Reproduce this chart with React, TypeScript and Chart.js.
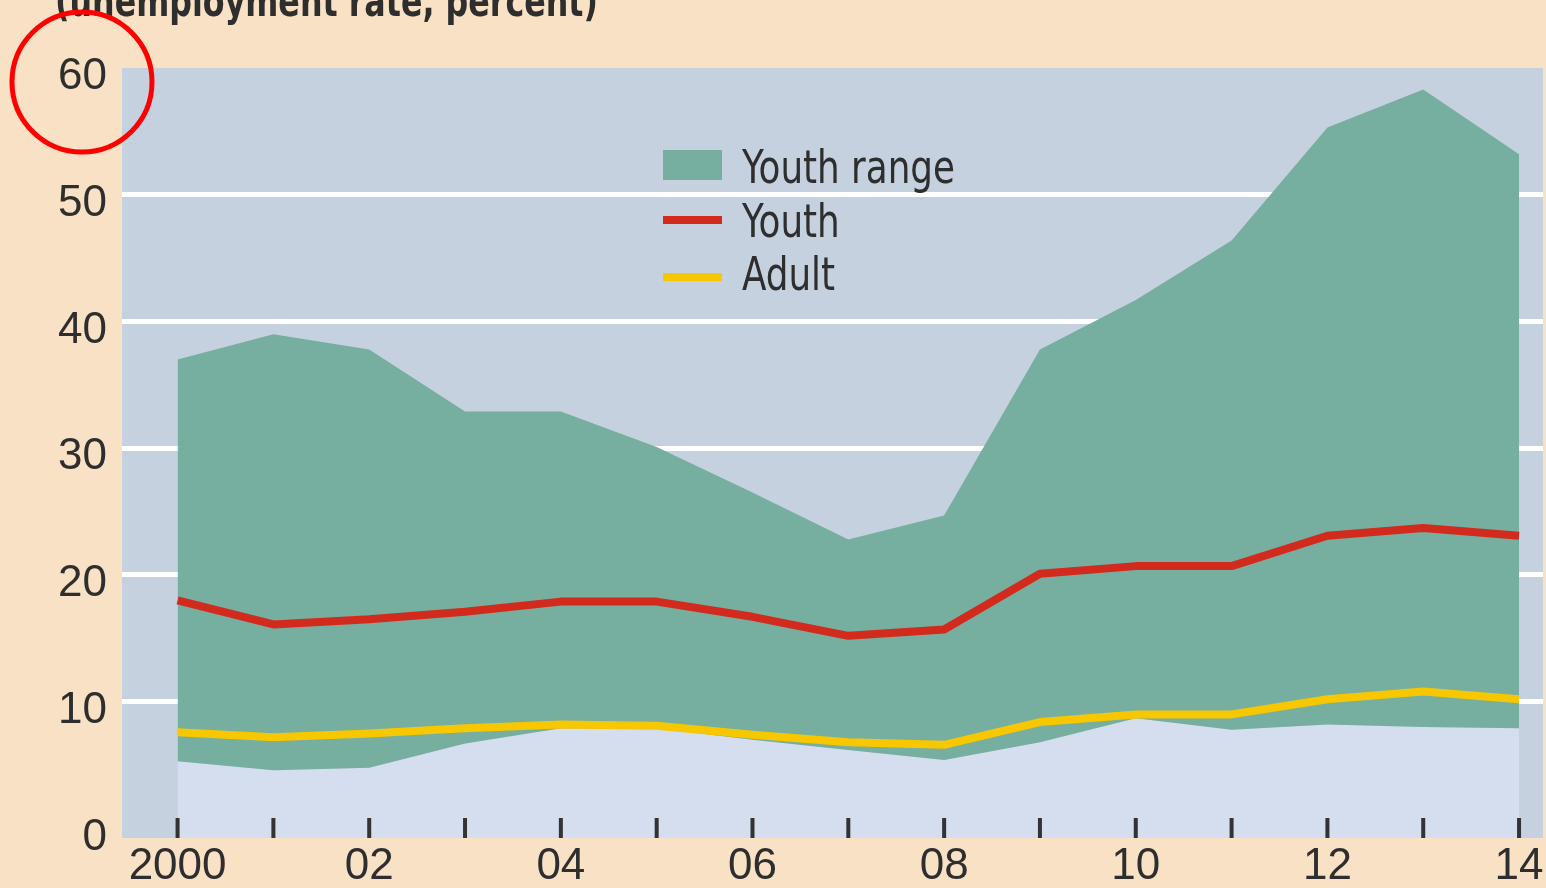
import React, { useEffect, useRef } from "react";
import { Chart, registerables } from "chart.js";

Chart.register(...registerables);

const years = [2000, 2001, 2002, 2003, 2004, 2005, 2006, 2007, 2008, 2009, 2010, 2011, 2012, 2013, 2014];
const rangeHigh = [37.0, 39.0, 37.8, 32.9, 32.9, 30.1, 26.5, 22.8, 24.7, 37.8, 41.7, 46.4, 55.3, 58.3, 53.2];
const rangeLow = [5.3, 4.6, 4.8, 6.7, 7.9, 7.9, 7.0, 6.2, 5.4, 6.8, 8.7, 7.8, 8.2, 8.0, 7.9];
const youth = [18.0, 16.1, 16.5, 17.1, 17.9, 17.9, 16.7, 15.2, 15.7, 20.1, 20.7, 20.7, 23.1, 23.7, 23.1];
const adult = [7.6, 7.2, 7.5, 7.9, 8.2, 8.1, 7.4, 6.8, 6.6, 8.4, 9.0, 9.0, 10.2, 10.8, 10.2];
const yTicks = [0, 10, 20, 30, 40, 50, 60];
const xTickLabels = ["2000", "", "02", "", "04", "", "06", "", "08", "", "10", "", "12", "", "14"];
const legendLabels = ["Youth range", "Youth", "Adult"];
const titleText = "(unemployment rate, percent)";

const PEACH = "#F8E1C5";
const PLOT_BG = "#C6D1E0";
const LIGHT = "#D4DEEE";
const GREEN = "#76AE9F";
const RED = "#D32A1E";
const YELLOW = "#F7C700";
const TEXT = "#2E2E2E";
const NARROW = "'Liberation Sans Narrow', 'DejaVu Sans Condensed', 'Liberation Sans', Arial, sans-serif";
const DIGITS = "'Liberation Sans', Arial, sans-serif";

const pts = (arr: number[]) => years.map((y, i) => ({ x: y, y: arr[i] }));

function fitText(ctx: CanvasRenderingContext2D, text: string, x: number, y: number, width: number) {
  const w = ctx.measureText(text).width;
  const s = Math.min(1, width / w);
  ctx.save();
  ctx.translate(x, y);
  ctx.scale(s, 1);
  ctx.fillText(text, 0, 0);
  ctx.restore();
  return s;
}

const decor = {
  id: "decor",
  beforeDraw(chart: any) {
    const { ctx, chartArea } = chart;
    ctx.save();
    ctx.fillStyle = PEACH;
    ctx.fillRect(0, 0, chart.width, chart.height);
    ctx.fillStyle = PLOT_BG;
    ctx.fillRect(chartArea.left, chartArea.top, chartArea.right - chartArea.left, chartArea.bottom - chartArea.top);
    ctx.restore();
  },
  afterDatasetsDraw(chart: any) {
    const { ctx, chartArea, scales } = chart;
    ctx.save();
    ctx.strokeStyle = "#333333";
    ctx.lineWidth = 4;
    years.forEach((yr) => {
      const x = scales.x.getPixelForValue(yr);
      ctx.beginPath();
      ctx.moveTo(x, chartArea.bottom - 20);
      ctx.lineTo(x, chartArea.bottom);
      ctx.stroke();
    });
    ctx.restore();
  },
  afterDraw(chart: any) {
    const { ctx } = chart;
    ctx.save();
    // title (cut at top)
    ctx.fillStyle = TEXT;
    ctx.font = `bold 42px ${NARROW}`;
    ctx.textBaseline = "alphabetic";
    ctx.textAlign = "left";
    fitText(ctx, titleText, 55, 16, 543);
    // legend
    ctx.fillStyle = GREEN;
    ctx.fillRect(663, 150, 59, 30);
    ctx.lineWidth = 8;
    ctx.strokeStyle = RED;
    ctx.beginPath();
    ctx.moveTo(663, 220);
    ctx.lineTo(722, 220);
    ctx.stroke();
    ctx.strokeStyle = YELLOW;
    ctx.beginPath();
    ctx.moveTo(663, 277);
    ctx.lineTo(722, 277);
    ctx.stroke();
    ctx.fillStyle = TEXT;
    ctx.font = `46px ${NARROW}`;
    const s = fitText(ctx, legendLabels[0], 742, 183, 213);
    [legendLabels[1], legendLabels[2]].forEach((t, i) => {
      ctx.save();
      ctx.translate(742, i === 0 ? 237 : 290);
      ctx.scale(s, 1);
      ctx.fillText(t, 0, 0);
      ctx.restore();
    });
    // red circle
    ctx.strokeStyle = "#FF0000";
    ctx.lineWidth = 5;
    ctx.beginPath();
    ctx.ellipse(82, 82, 70, 70, 0, 0, Math.PI * 2);
    ctx.stroke();
    ctx.restore();
  },
};

export default function App() {
  const ref = useRef<HTMLCanvasElement | null>(null);
  useEffect(() => {
    if (!ref.current) return;
    const chart = new Chart(ref.current, {
      type: "line",
      data: {
        datasets: [
          {
            label: "low",
            data: pts(rangeLow),
            borderWidth: 0,
            pointRadius: 0,
            backgroundColor: LIGHT,
            fill: "start",
            order: 4,
          },
          {
            label: legendLabels[0],
            data: pts(rangeHigh),
            borderWidth: 0,
            pointRadius: 0,
            backgroundColor: GREEN,
            fill: "-1",
            order: 3,
          },
          {
            label: legendLabels[1],
            data: pts(youth),
            borderColor: RED,
            borderWidth: 8,
            pointRadius: 0,
            fill: false,
            borderJoinStyle: "round",
            order: 1,
          },
          {
            label: legendLabels[2],
            data: pts(adult),
            borderColor: YELLOW,
            borderWidth: 8,
            pointRadius: 0,
            fill: false,
            borderJoinStyle: "round",
            order: 0,
          },
        ],
      } as any,
      options: {
        animation: false,
        responsive: false,
        devicePixelRatio: 1,
        layout: { padding: { top: 68, right: 3, left: 0, bottom: 0 } },
        plugins: { legend: { display: false }, tooltip: { enabled: false } },
        scales: {
          x: {
            type: "linear",
            min: 1999.42,
            max: 2014.25,
            afterBuildTicks: (s: any) => {
              s.ticks = years.map((v) => ({ value: v }));
            },
            afterFit: (s: any) => {
              s.height = 50;
            },
            grid: { display: false, drawTicks: false },
            border: { display: false },
            ticks: {
              autoSkip: false,
              maxRotation: 0,
              padding: 2,
              color: TEXT,
              font: { family: DIGITS, size: 44 },
              callback: (v: any) => {
                const i = years.indexOf(Number(v));
                return i >= 0 ? xTickLabels[i] : "";
              },
            },
          },
          y: {
            type: "linear",
            min: -0.75,
            max: 60,
            afterBuildTicks: (s: any) => {
              s.ticks = yTicks.map((v) => ({ value: v }));
            },
            afterFit: (s: any) => {
              s.width = 122;
            },
            grid: {
              drawTicks: false,
              lineWidth: 5,
              color: (c: any) =>
                c.tick && c.tick.value > 0 && c.tick.value < 60 ? "#FFFFFF" : "rgba(0,0,0,0)",
            },
            border: { display: false },
            ticks: {
              padding: 15,
              labelOffset: 9,
              color: TEXT,
              font: { family: DIGITS, size: 44 },
            },
          },
        },
      },
      plugins: [decor],
    } as any);
    return () => chart.destroy();
  }, []);
  return (
    <div style={{ position: "fixed", left: 0, top: 0, width: 1546, height: 888, background: PEACH }}>
      <canvas ref={ref} width={1546} height={888} style={{ width: 1546, height: 888, display: "block" }} />
    </div>
  );
}
